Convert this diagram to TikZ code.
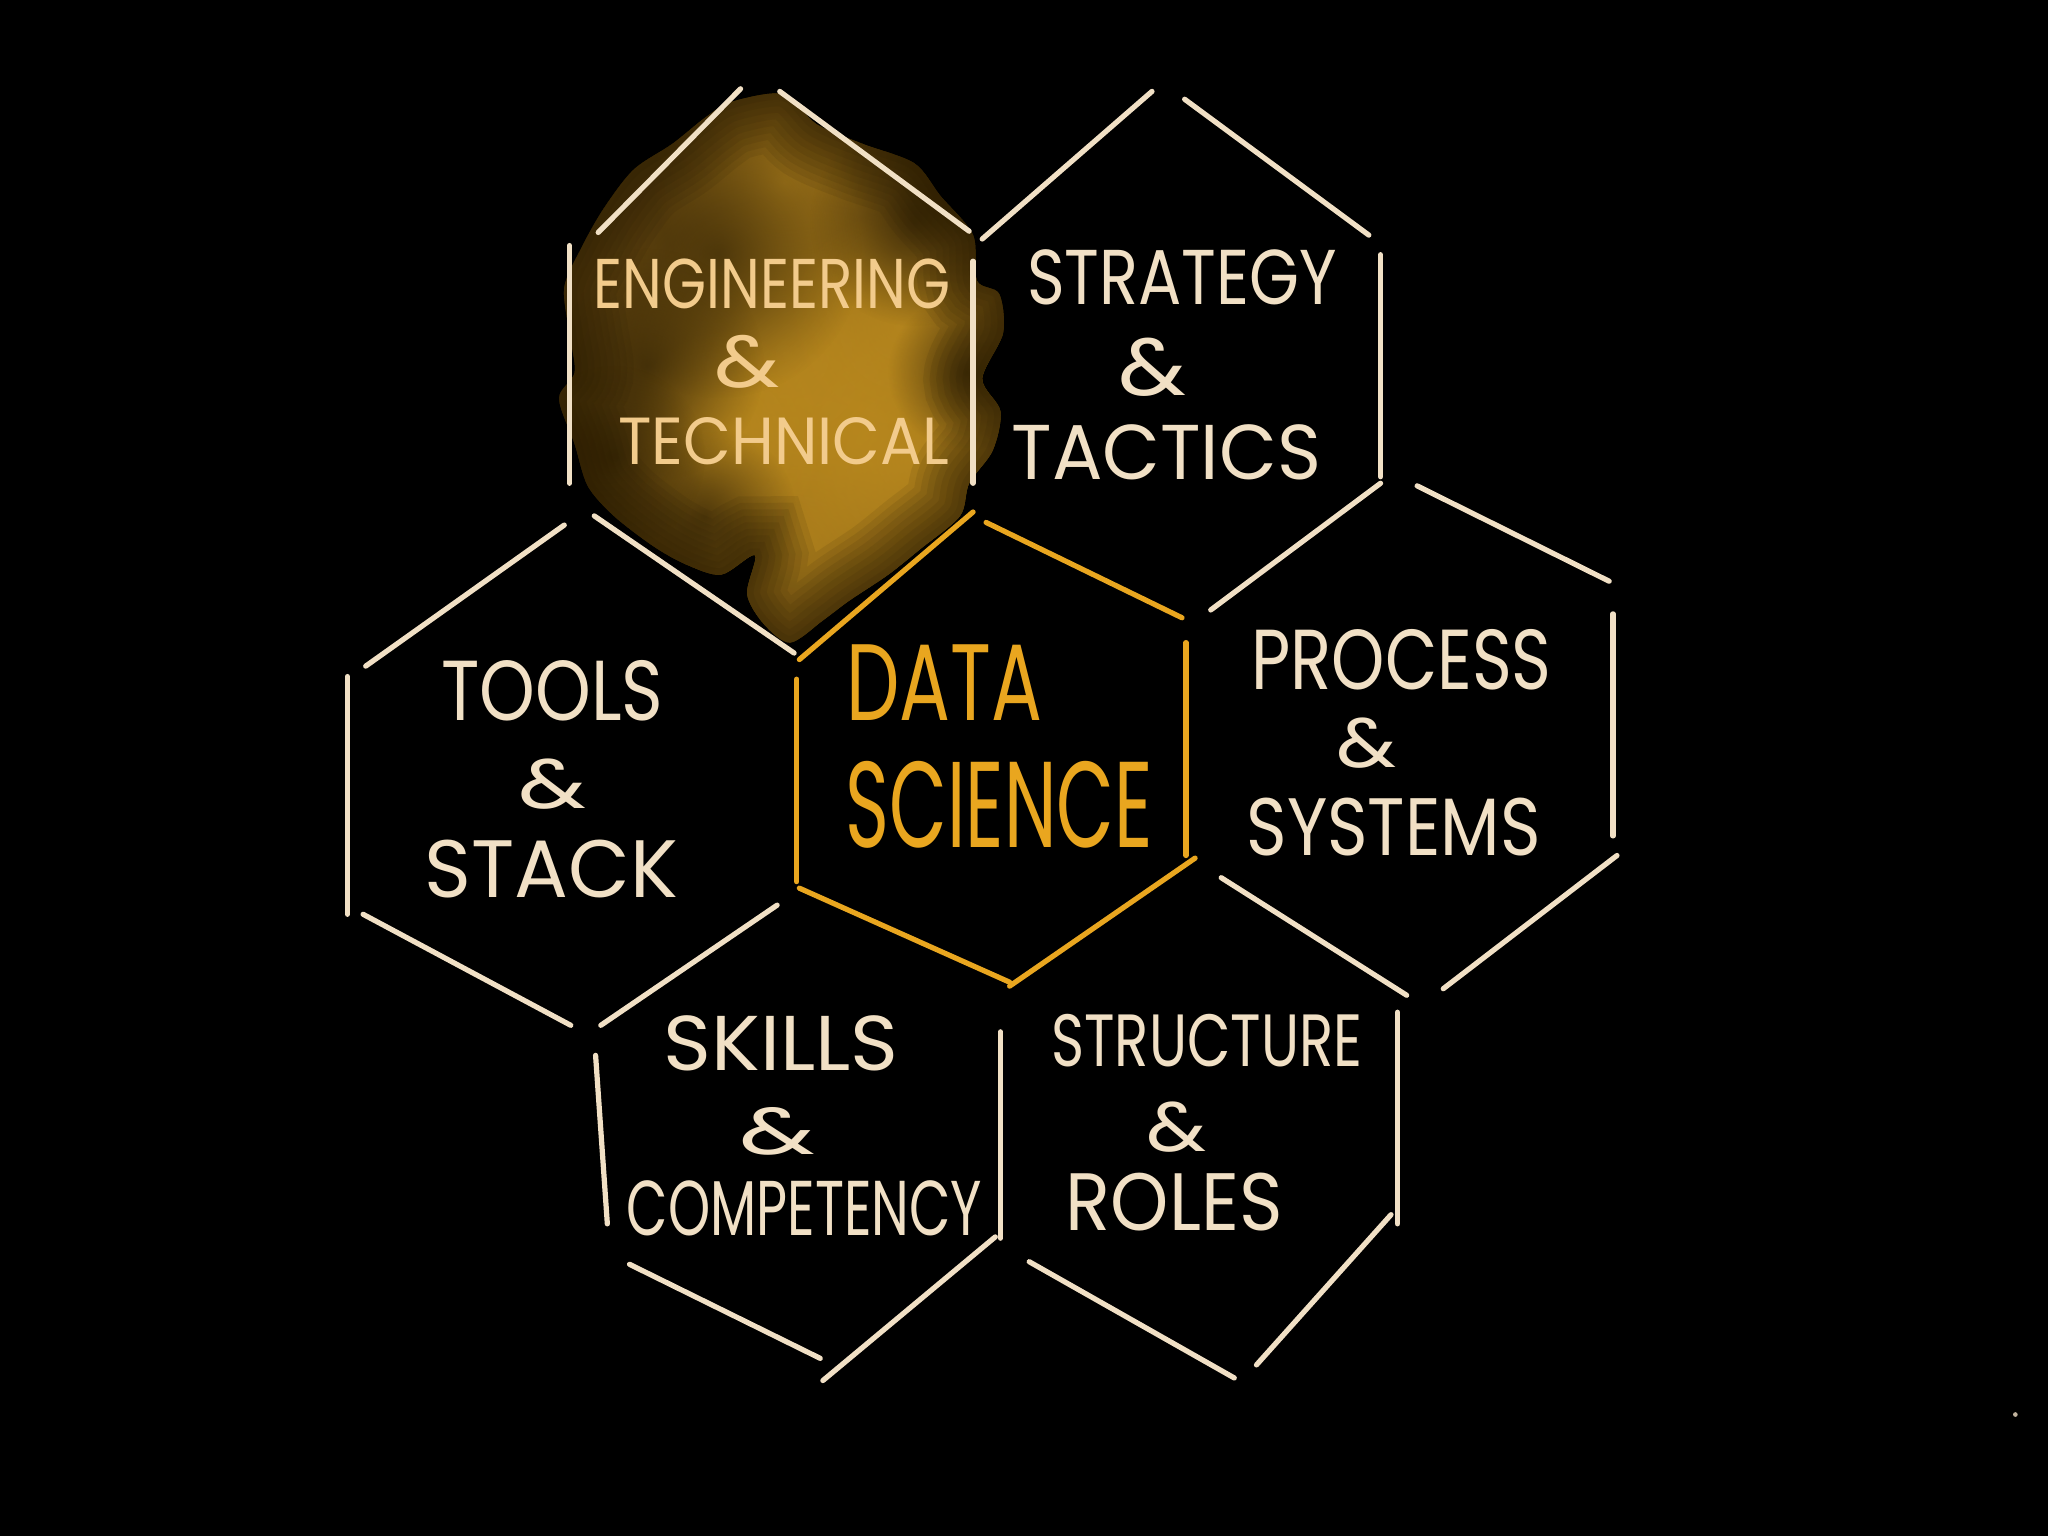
\documentclass[tikz,border=0pt]{standalone}
\usepackage{fontspec}
\setmainfont{Poppins}
\usepackage{graphicx}
\usetikzlibrary{fadings}

% one drawing unit
\newdimen\dpx \dpx=0.013061cm
\newcommand\handword[3]{\resizebox{#1\dpx}{#2\dpx}{#3}}

\definecolor{cream}{HTML}{F1E0C5}
\definecolor{amber}{HTML}{E9A61F}
\definecolor{honey}{HTML}{F2CB8C}
\definecolor{umber}{HTML}{654710}
\definecolor{ochre}{HTML}{BC8B1F}
\definecolor{soot}{HTML}{221702}

\tikzfading[name=softspot, inner color=transparent!0, outer color=transparent!100]

\tikzset{
  edge/.style={draw=cream, line width=4\dpx, line cap=round},
  hotedge/.style={draw=amber, line width=4\dpx, line cap=round},
  word/.style={inner sep=0pt, text=cream},
  hotword/.style={inner sep=0pt, text=amber},
  glowword/.style={inner sep=0pt, text=honey},
  glow/.style={fill=ochre, opacity=0.7, path fading=softspot},
  shade/.style={fill=soot, opacity=0.6, path fading=softspot},
  rim/.style={draw=soot, opacity=0.09},
  cloudedge/.style={smooth cycle, tension=0.5},
}

\begin{document}
\begin{tikzpicture}[x=0.013061cm, y=-0.013061cm]
\fill[black] (0,0) rectangle (1568,1176);
\useasboundingbox (0,0) rectangle (1568,1176);

% painted cloud behind the engineering cell
\def\cloudpts{(560,78) (600,72) (625,95) (660,110) (700,125) (720,150) (745,180)
  (748,215) (765,225) (768,255) (752,290) (766,315) (760,345) (742,370)
  (735,395) (705,420) (680,440) (650,460) (630,475) (605,492) (585,478)
  (572,455) (578,425) (552,440) (525,432) (500,418) (470,395) (450,372)
  (440,340) (428,305) (440,285) (436,255) (432,220) (445,190) (462,160)
  (485,130) (515,110) (540,90)}
\begin{scope}
\path[clip] plot[cloudedge] coordinates {\cloudpts};
\fill[umber] (400,50) rectangle (800,520);
\foreach \cx/\cy/\r in {625/300/100, 665/330/70, 600/270/60, 610/420/70,
                        700/350/50, 600/140/50, 690/250/45, 560/330/40}
  \fill[glow] (\cx,\cy) circle (2*\r);
\foreach \cx/\cy/\r in {550/195/55, 495/280/45, 700/170/40, 540/395/35, 740/285/30, 470/350/35}
  \fill[shade] (\cx,\cy) circle (2*\r);
\foreach \w in {90,80,70,60,50,40,30,20,10}
  \draw[rim, line width=\w\dpx] plot[cloudedge] coordinates {\cloudpts};
\end{scope}

% engineering cell
\draw[edge] (458,178) -- (567,68);
\draw[edge] (597,70) -- (742,177);
\draw[edge] (745,200) -- (745,370);
\draw[edge] (436,188) -- (436,370);
\draw[edge] (455,395) -- (608,500);

% strategy cell
\draw[edge] (752,183) -- (882,70);
\draw[edge] (907,76) -- (1048,180);
\draw[edge] (1057,195) -- (1057,365);
\draw[edge] (1057,370) -- (927,467);

% tools cell
\draw[edge] (280,510) -- (432,402);
\draw[edge] (266,518) -- (266,700);
\draw[edge] (278,700) -- (437,785);
\draw[edge] (460,785) -- (595,693);

% process cell
\draw[edge] (1085,372) -- (1232,445);
\draw[edge] (1235,470) -- (1235,640);
\draw[edge] (1238,655) -- (1105,757);
\draw[edge] (935,672) -- (1077,762);

% skills cell
\draw[edge] (456,808) -- (465,937);
\draw[edge] (766,790) -- (766,948);
\draw[edge] (482,968) -- (628,1040);
\draw[edge] (630,1057) -- (762,947);

% structure cell
\draw[edge] (1070,775) -- (1070,937);
\draw[edge] (1065,930) -- (962,1045);
\draw[edge] (788,966) -- (945,1055);

% centre cell
\draw[hotedge] (612,505) -- (745,392);
\draw[hotedge] (755,400) -- (905,473);
\draw[hotedge] (908,492) -- (908,655);
\draw[hotedge] (915,657) -- (773,755);
\draw[hotedge] (612,680) -- (773,752);
\draw[hotedge] (610,520) -- (610,675);

% labels
\node[glowword] (eng1) at (591,217) {\handword{273}{38}{ENGINEERING}};
\node[glowword] (eng2) at (572,277) {\handword{50}{40}{\&}};
\node[glowword] (eng3) at (600,338) {\handword{253}{36}{TECHNICAL}};

\node[word] (str1) at (905,212) {\handword{237}{42}{STRATEGY}};
\node[word] (str2) at (882,281) {\handword{52}{44}{\&}};
\node[word] (str3) at (893,346) {\handword{237}{42}{TACTICS}};

\node[word] (tool1) at (423,529) {\handword{170}{46}{TOOLS}};
\node[word] (tool2) at (423,600) {\handword{52}{38}{\&}};
\node[word] (tool3) at (422,665) {\handword{194}{44}{STACK}};

\node[hotword] (ds1) at (723,523) {\handword{150}{58}{DATA}};
\node[hotword] (ds2) at (765,616) {\handword{235}{66}{SCIENCE}};

\node[word] (proc1) at (1073,505) {\handword{230}{46}{PROCESS}};
\node[word] (proc2) at (1046,569) {\handword{46}{38}{\&}};
\node[word] (proc3) at (1067,633) {\handword{225}{44}{SYSTEMS}};

\node[word] (sk1) at (598,799) {\handword{180}{42}{SKILLS}};
\node[word] (sk2) at (595,866) {\handword{58}{36}{\&}};
\node[word] (sk3) at (616,925) {\handword{272}{42}{COMPETENCY}};

\node[word] (st1) at (924,797) {\handword{238}{40}{STRUCTURE}};
\node[word] (st2) at (901,863) {\handword{46}{38}{\&}};
\node[word] (st3) at (899,920) {\handword{166}{44}{ROLES}};

% stray speck
\fill[cream!80!black] (1543,1083) circle (1.8);
\end{tikzpicture}
\end{document}
